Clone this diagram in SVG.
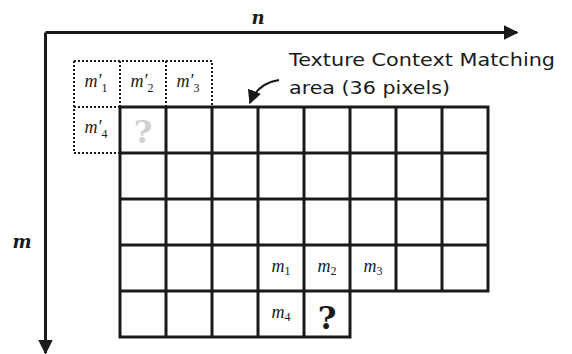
<svg xmlns="http://www.w3.org/2000/svg" width="572" height="354" viewBox="0 0 572 354">
  <style>
    .grid { fill: none; stroke: #1a1a1a; stroke-width: 3; stroke-linecap: square; }
    .dot { fill: none; stroke: #1a1a1a; stroke-width: 2; stroke-dasharray: 2 2; }
    .axis { fill: none; stroke: #1a1a1a; stroke-width: 3; }
    .var { font-family: "Liberation Serif", "DejaVu Serif", serif; font-style: italic; font-size: 18px; fill: #1a1a1a; text-anchor: middle; }
    .sub { font-family: "Liberation Serif", "DejaVu Serif", serif; font-style: normal; font-size: 12px; }
    .axislbl { font-family: "DejaVu Serif", serif; font-style: italic; font-weight: bold; font-size: 18px; fill: #1a1a1a; text-anchor: middle; }
    .note { font-family: "DejaVu Sans", sans-serif; font-size: 17px; fill: #1a1a1a; }
    .q { font-family: "DejaVu Serif", serif; font-weight: bold; font-size: 32px; text-anchor: middle; }
  </style>
  <defs>
    <marker id="tri" viewBox="0 0 10 10" refX="9" refY="5" markerWidth="5" markerHeight="5" markerUnits="strokeWidth" orient="auto">
      <path d="M0,0 L10,5 L0,10 z" fill="#1a1a1a"/>
    </marker>
    <marker id="tri2" viewBox="0 0 10 10" refX="9" refY="5" markerWidth="7" markerHeight="7" markerUnits="strokeWidth" orient="auto">
      <path d="M0,0 L10,5 L0,10 z" fill="#1a1a1a"/>
    </marker>
  </defs>

  <!-- coordinate axes and the pointer to the matching area -->
  <g id="connectors">
    <path class="axis" d="M45.5,32.5 H517" marker-end="url(#tri)"/>
    <path class="axis" d="M45.5,32.5 V353" marker-end="url(#tri)"/>
    <path fill="none" stroke="#1a1a1a" stroke-width="2" d="M279,80 C265,82 255,90 250,103" marker-end="url(#tri2)"/>
  </g>

  <g id="axis-n"><text class="axislbl" x="258" y="24">n</text></g>
  <g id="axis-m"><text class="axislbl" x="22" y="248">m</text></g>

  <!-- causal neighbourhood in dotted cells -->
  <g id="dotted-neighbours">
    <path class="dot" d="M74,61 H212 V107 M74,61 V153 H120 M74,107 H120 M120,61 V107 M166,61 V107"/>
    <text class="var" x="96" y="87">m′<tspan class="sub" dy="5">1</tspan></text>
    <text class="var" x="142" y="87">m′<tspan class="sub" dy="5">2</tspan></text>
    <text class="var" x="188" y="87">m′<tspan class="sub" dy="5">3</tspan></text>
    <text class="var" x="96" y="133">m′<tspan class="sub" dy="5">4</tspan></text>
    <text class="q" x="143" y="143" fill="#d0d0d0">?</text>
  </g>

  <!-- matching area grid -->
  <g id="matching-grid">
    <path class="grid" d="M120,107 H488 V291 H350 V337 H120 Z
      M120,153 H488 M120,199 H488 M120,245 H488 M120,291 H350
      M166,107 V337 M212,107 V337 M258,107 V337 M304,107 V337
      M350,107 V291 M396,107 V291 M442,107 V291"/>
  </g>

  <g id="cell-m1"><text class="var" x="281" y="272">m<tspan class="sub" dy="3">1</tspan></text></g>
  <g id="cell-m2"><text class="var" x="327" y="272">m<tspan class="sub" dy="3">2</tspan></text></g>
  <g id="cell-m3"><text class="var" x="373" y="272">m<tspan class="sub" dy="3">3</tspan></text></g>
  <g id="cell-m4"><text class="var" x="281" y="318">m<tspan class="sub" dy="3">4</tspan></text></g>
  <g id="cell-target"><text class="q" x="327" y="329" fill="#1a1a1a">?</text></g>

  <g id="label-area">
    <text class="note" x="289" y="66" textLength="266" lengthAdjust="spacingAndGlyphs">Texture Context Matching</text>
    <text class="note" x="289" y="94" textLength="161" lengthAdjust="spacingAndGlyphs">area (36 pixels)</text>
  </g>
</svg>
